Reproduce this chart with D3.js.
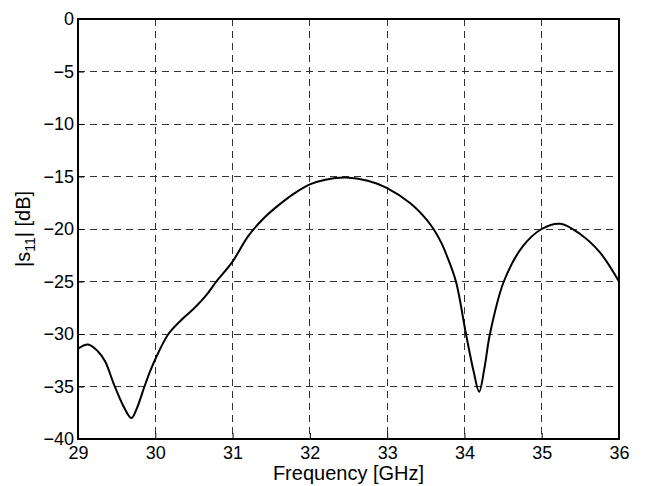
<!DOCTYPE html>
<html>
<head>
<meta charset="utf-8">
<script src="https://cdn.jsdelivr.net/npm/d3@7"></script>
<style>
  body {
    margin: 0;
    background: #ffffff;
  }

  text {
    font-family: 'Liberation Sans', Arial, sans-serif;
    fill: #000000;
  }

  .tick-label {
    font-size: 18px;
  }

  .axis-title {
    font-size: 20px;
  }

  .grid line {
    stroke: #333333;
    stroke-width: 1px;
    stroke-dasharray: 7, 5;
    shape-rendering: crispEdges;
  }

  .frame {
    fill: none;
    stroke: #000000;
    stroke-width: 2px;
    shape-rendering: crispEdges;
  }

  .data-line {
    fill: none;
    stroke: #000000;
    stroke-width: 2px;
  }
</style>
</head>
<body>
<svg width="650" height="486" id="SVG"></svg>
<script>
// frequency in GHz and |s11| in dB
const freqGHz = [
  29.0, 29.13, 29.25, 29.35, 29.46, 29.59, 29.69, 29.76, 29.86, 29.93,
  30.0, 30.17, 30.36, 30.51, 30.66, 30.79, 31.0, 31.2, 31.4, 31.6,
  31.8, 32.0, 32.2, 32.47, 32.75, 33.0, 33.3, 33.51, 33.6, 33.7,
  33.77, 33.89, 34.02, 34.12, 34.19, 34.26, 34.33, 34.51, 34.75, 35.0,
  35.24, 35.5, 35.75, 36.0
];
const s11dB = [
  -31.4, -31.0, -31.6, -32.6, -34.7, -36.9, -38.0, -37.1, -35.0, -33.6,
  -32.4, -30.0, -28.5, -27.5, -26.3, -25.0, -23.1, -20.7, -19.0, -17.7,
  -16.6, -15.75, -15.3, -15.1, -15.4, -16.1, -17.55, -19.1, -20.0, -21.3,
  -22.5, -25.0, -30.0, -33.6, -35.5, -33.2, -30.0, -25.0, -21.7, -20.0,
  -19.5, -20.5, -22.2, -25.0
];
const xTicks = [29, 30, 31, 32, 33, 34, 35, 36];
const yTicks = [-40, -35, -30, -25, -20, -15, -10, -5, 0];

const svg = d3.select('#SVG');
const margin = { top: 19, right: 31, bottom: 47, left: 78 };
const width = +svg.attr('width') - margin.left - margin.right;
const height = +svg.attr('height') - margin.top - margin.bottom;

const g = svg
  .append('g')
  .attr('transform', 'translate(' + margin.left + ',' + margin.top + ')');

const x = d3.scaleLinear().domain([29, 36]).range([0, width]);
const y = d3.scaleLinear().domain([-40, 0]).range([height, 0]);

// dashed grid
g.append('g')
  .attr('class', 'grid')
  .selectAll('line')
  .data(xTicks.slice(1, -1))
  .enter()
  .append('line')
  .attr('x1', (d) => x(d))
  .attr('x2', (d) => x(d))
  .attr('y1', 0)
  .attr('y2', height);

g.append('g')
  .attr('class', 'grid')
  .selectAll('line')
  .data(yTicks.slice(1, -1))
  .enter()
  .append('line')
  .attr('x1', 0)
  .attr('x2', width)
  .attr('y1', (d) => y(d))
  .attr('y2', (d) => y(d));

// x axis
const xAxis = g
  .append('g')
  .attr('transform', 'translate(0,' + height + ')')
  .call(d3.axisBottom(x).tickValues(xTicks).tickSize(-6).tickFormat(d3.format('d')));
xAxis.select('.domain').remove();
xAxis.selectAll('line').attr('stroke', '#000');
xAxis.selectAll('text').attr('class', 'tick-label').attr('dy', '0.71em').attr('y', 7);

// y axis
const yAxis = g
  .append('g')
  .call(d3.axisLeft(y).tickValues(yTicks).tickSize(-6).tickFormat(d3.format('d')));
yAxis.select('.domain').remove();
yAxis.selectAll('line').attr('stroke', '#000');
yAxis.selectAll('text').attr('class', 'tick-label').attr('x', -4);

// frame
g.append('rect')
  .attr('class', 'frame')
  .attr('x', 0)
  .attr('y', 0)
  .attr('width', width)
  .attr('height', height);

// curve
const line = d3
  .line()
  .x((d, i) => x(freqGHz[i]))
  .y((d) => y(d))
  .curve(d3.curveCatmullRom.alpha(0.5));

g.append('path').datum(s11dB).attr('class', 'data-line').attr('d', line);

// axis titles
g.append('text')
  .attr('class', 'axis-title')
  .attr('x', width / 2)
  .attr('y', height + 41)
  .attr('text-anchor', 'middle')
  .text('Frequency [GHz]');

const yTitle = g
  .append('text')
  .attr('class', 'axis-title')
  .attr('text-anchor', 'middle')
  .attr('transform', 'translate(-48,' + height / 2 + ') rotate(-90)');
yTitle.append('tspan').text('|s');
yTitle.append('tspan').attr('font-size', '14px').attr('dy', 5).text('11');
yTitle.append('tspan').attr('dy', -5).text('| [dB]');
</script>
</body>
</html>
